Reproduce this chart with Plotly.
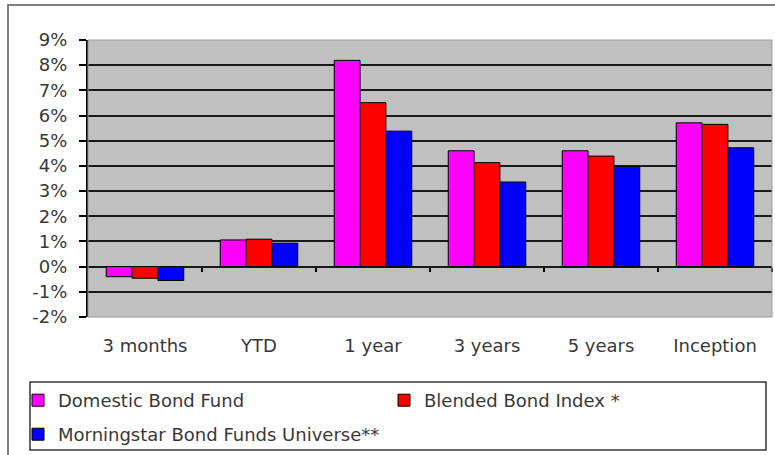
import plotly.graph_objects as go

categories = ["3 months", "YTD", "1 year", "3 years", "5 years", "Inception"]
domestic = [-0.40, 1.06, 8.19, 4.60, 4.60, 5.71]
blended = [-0.46, 1.09, 6.51, 4.13, 4.39, 5.65]
morningstar = [-0.55, 0.93, 5.38, 3.36, 3.98, 4.72]
series_names = ["Domestic Bond Fund", "Blended Bond Index *", "Morningstar Bond Funds Universe**"]
colors = ["#FF00FF", "#FF0000", "#0000FF"]
y_ticks = list(range(-2, 10))
y_tick_labels = [f"{v}%" for v in y_ticks]

W, H = 775, 455
L, R, T, B = 88, 3, 40, 138
PW, PH = W - L - R, H - T - B

def px_x(x):
    return (x - L) / PW

def px_y(y):
    return 1 - (y - T) / PH

FONT = "DejaVu Sans"
TXT = "#383838"

fig = go.Figure()
for name, vals, col, lg in zip(series_names, [domestic, blended, morningstar], colors,
                               ["legend", "legend", "legend2"]):
    fig.add_trace(go.Bar(
        x=categories, y=vals, name=name,
        marker=dict(color=col, line=dict(color="black", width=1)),
        legend=lg,
    ))

# carrier for the category-boundary tick marks on the zero line
fig.add_trace(go.Scatter(x=[None], y=[None], xaxis="x2", showlegend=False, hoverinfo="skip"))

fig.update_layout(
    width=W, height=H,
    margin=dict(l=L, r=R, t=T, b=B, autoexpand=False),
    paper_bgcolor="white",
    plot_bgcolor="#C0C0C0",
    barmode="group",
    bargap=0.32,
    bargroupgap=0,
    font=dict(family=FONT, size=18, color=TXT),
    xaxis=dict(
        type="category", automargin=False,
        showgrid=False, showline=False, zeroline=False,
        ticks="outside", ticklen=12, tickcolor="rgba(0,0,0,0)",
        tickfont=dict(family=FONT, size=18, color=TXT),
    ),
    xaxis2=dict(
        overlaying="x", anchor="free", position=2 / 11,
        range=[-0.5, 5.5], automargin=False,
        tickvals=[i + 0.5 for i in range(len(categories))],
        ticks="outside", ticklen=4, tickwidth=2, tickcolor="black",
        showticklabels=False, showgrid=False, showline=False, zeroline=False,
    ),
    yaxis=dict(
        range=[-2, 9], automargin=False,
        tickmode="array", tickvals=y_ticks, ticktext=y_tick_labels,
        showgrid=True, gridcolor="#1a1a1a", gridwidth=2,
        zeroline=True, zerolinecolor="#1a1a1a", zerolinewidth=2,
        showline=True, linecolor="black", linewidth=2,
        ticks="outside", ticklen=7, tickwidth=2, tickcolor="black",
        ticklabelstandoff=8,
        tickfont=dict(family=FONT, size=18, color=TXT),
    ),
    legend=dict(
        orientation="h",
        xref="paper", yref="paper",
        x=px_x(18), y=px_y(382),
        xanchor="left", yanchor="top",
        entrywidth=321,
        bgcolor="rgba(0,0,0,0)",
        font=dict(family=FONT, size=18, color=TXT),
        traceorder="normal",
    ),
    legend2=dict(
        orientation="h",
        xref="paper", yref="paper",
        x=px_x(18), y=px_y(416),
        xanchor="left", yanchor="top",
        bgcolor="rgba(0,0,0,0)",
        font=dict(family=FONT, size=18, color=TXT),
    ),
    shapes=[
        # outer frame
        dict(type="rect", xref="paper", yref="paper",
             x0=px_x(8), x1=px_x(782), y0=px_y(462), y1=px_y(5),
             line=dict(color="#808080", width=2), fillcolor="rgba(0,0,0,0)", layer="below"),
        # plot area frame
        dict(type="rect", xref="paper", yref="paper",
             x0=0, x1=1, y0=0, y1=1,
             line=dict(color="#9a9a9a", width=1), fillcolor="rgba(0,0,0,0)", layer="above"),
        # legend box
        dict(type="rect", xref="paper", yref="paper",
             x0=px_x(30), x1=px_x(766), y0=px_y(450), y1=px_y(382),
             line=dict(color="#333333", width=1.5), fillcolor="rgba(0,0,0,0)"),
    ],
)

fig.write_html("out.html", config={"displayModeBar": False},
               post_script="document.body.style.margin='0';")
